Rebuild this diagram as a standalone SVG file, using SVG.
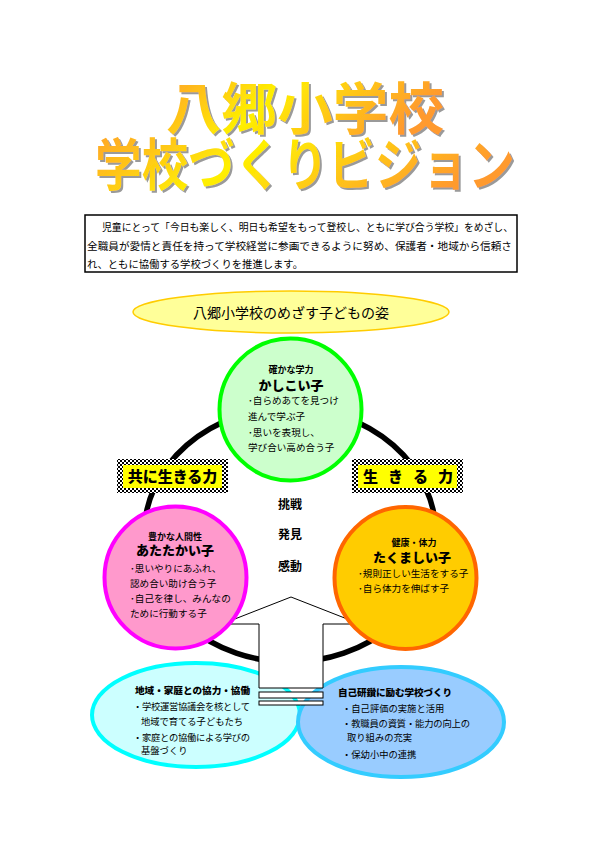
<svg xmlns="http://www.w3.org/2000/svg" width="595" height="842" viewBox="0 0 595 842">
<defs>
<linearGradient id="tg" x1="0" y1="0" x2="1" y2="0.3">
<stop offset="0" stop-color="#FF9A2E"/>
<stop offset="0.45" stop-color="#FFF000"/>
<stop offset="1" stop-color="#FF9A2E"/>
</linearGradient>
<filter id="sh" x="-5%" y="-10%" width="115%" height="130%">
<feOffset in="SourceAlpha" dx="2" dy="2" result="o"/>
<feFlood flood-color="#9a9a9a"/>
<feComposite in2="o" operator="in" result="s"/>
<feMerge><feMergeNode in="s"/><feMergeNode in="SourceGraphic"/></feMerge>
</filter>
<pattern id="chk" width="4" height="4" patternUnits="userSpaceOnUse">
<rect width="4" height="4" fill="#fff"/>
<rect width="2" height="2" fill="#000"/>
<rect x="2" y="2" width="2" height="2" fill="#000"/>
</pattern>
<style>
text{font-family:"Noto Sans CJK JP","Noto Sans CJK SC",sans-serif;fill:#000}
.title{font-size:56px;font-weight:bold;fill:url(#tg);filter:url(#sh)}
.body{font-size:10.3px}
.sm{font-size:9px;font-weight:bold}
.big{font-size:13px;font-weight:900}
.it{font-size:9.6px}
.lab{font-size:15px;font-weight:900}
.kw{font-size:12px;font-weight:bold}
.bt{font-size:9.3px}
.btb{font-size:9.6px;font-weight:900}
</style>
</defs>
<rect width="595" height="842" fill="#fff"/>

<g id="title">
<text class="title" x="305" y="129" text-anchor="middle" textLength="278" lengthAdjust="spacingAndGlyphs">八郷小学校</text>
<text class="title" x="305" y="185" text-anchor="middle" textLength="420" lengthAdjust="spacingAndGlyphs">学校づくりビジョン</text>
</g>

<g id="intro">
<rect x="85" y="215" width="432" height="57" fill="#fff" stroke="#000" stroke-width="1.5"/>
<text class="body" x="102" y="231" textLength="411" lengthAdjust="spacingAndGlyphs">児童にとって「今日も楽しく、明日も希望をもって登校し、ともに学び合う学校」をめざし、</text>
<text class="body" x="87" y="250" textLength="425" lengthAdjust="spacingAndGlyphs">全職員が愛情と責任を持って学校経営に参画できるように努め、保護者・地域から信頼さ</text>
<text class="body" x="87" y="268" textLength="216" lengthAdjust="spacingAndGlyphs">れ、ともに協働する学校づくりを推進します。</text>
</g>

<g id="goal">
<ellipse cx="291" cy="312" rx="158" ry="21" fill="#FFFF99" stroke="#FFCC00" stroke-width="1.5"/>
<text x="291" y="318" text-anchor="middle" style="font-size:14px">八郷小学校のめざす子どもの姿</text>
</g>

<g id="connectors">
<ellipse cx="290" cy="535" rx="146" ry="127" fill="none" stroke="#000" stroke-width="5.5"/>
</g>

<g id="community">
<ellipse cx="196" cy="715" rx="104" ry="52" fill="#CCFFFF" stroke="#00FFFF" stroke-width="4"/>
<text class="btb" x="135" y="694">地域・家庭との協力・協働</text>
<text class="bt" x="133" y="710" textLength="117" lengthAdjust="spacing">・学校運営協議会を核として</text>
<text class="bt" x="141" y="725" textLength="102" lengthAdjust="spacing">地域で育てる子どもたち</text>
<text class="bt" x="133" y="741" textLength="117" lengthAdjust="spacing">・家庭との協働による学びの</text>
<text class="bt" x="141" y="754">基盤づくり</text>
</g>

<g id="school">
<ellipse cx="401" cy="722" rx="103" ry="55" fill="#99CCFF" stroke="#33CCFF" stroke-width="4"/>
<text class="btb" x="338" y="696" textLength="114" lengthAdjust="spacing">自己研鑽に励む学校づくり</text>
<text class="bt" x="342" y="712">・自己評価の実施と活用</text>
<text class="bt" x="342" y="727" textLength="128" lengthAdjust="spacing">・教職員の資質・能力の向上の</text>
<text class="bt" x="347" y="741">取り組みの充実</text>
<text class="bt" x="342" y="758">・保幼小中の連携</text>
</g>

<g id="arrow">
<polygon points="291,597 360,624 323,624 323,688 259,688 259,624 222,624" fill="#fff" stroke="#000" stroke-width="1"/>
<rect x="259" y="692" width="64" height="6" fill="#fff" stroke="#000" stroke-width="1"/>
<rect x="259" y="701" width="64" height="4" fill="#fff" stroke="#000" stroke-width="1"/>
</g>

<g id="kw">
<text class="kw" x="290" y="509" text-anchor="middle">挑戦</text>
<text class="kw" x="290" y="539" text-anchor="middle">発見</text>
<text class="kw" x="290" y="571" text-anchor="middle">感動</text>
</g>

<g id="heart">
<circle cx="175.5" cy="577.5" r="71" fill="#FF99CC" stroke="#FF00FF" stroke-width="4"/>
<text class="sm" x="175" y="540" text-anchor="middle">豊かな人間性</text>
<text class="big" x="175" y="555" text-anchor="middle">あたたかい子</text>
<text class="it" x="130" y="572">･思いやりにあふれ、</text>
<text class="it" x="130" y="587">認め合い助け合う子</text>
<text class="it" x="130" y="602">･自己を律し、みんなの</text>
<text class="it" x="130" y="617">ために行動する子</text>
</g>

<g id="health">
<circle cx="405.5" cy="578" r="71" fill="#FFCC00" stroke="#FF6600" stroke-width="4"/>
<text class="sm" x="414" y="546" text-anchor="middle">健康・体力</text>
<text class="big" x="412" y="562" text-anchor="middle">たくましい子</text>
<text class="it" x="358" y="577">･規則正しい生活をする子</text>
<text class="it" x="358" y="592">･自ら体力を伸ばす子</text>
</g>

<g id="wisdom">
<circle cx="290.5" cy="409.5" r="71" fill="#CCFFCC" stroke="#00FF00" stroke-width="4"/>
<text class="sm" x="291" y="373" text-anchor="middle">確かな学力</text>
<text class="big" x="291" y="390" text-anchor="middle">かしこい子</text>
<text class="it" x="248" y="404">･自らめあてを見つけ</text>
<text class="it" x="248" y="420">進んで学ぶ子</text>
<text class="it" x="248" y="436">･思いを表現し、</text>
<text class="it" x="248" y="451">学び合い高め合う子</text>
</g>

<g id="label-left">
<rect x="117" y="459" width="111" height="34" fill="url(#chk)"/>
<rect x="123" y="465" width="99" height="23" fill="#FFFF00"/>
<text class="lab" x="172.5" y="482" text-anchor="middle">共に生きる力</text>
</g>

<g id="label-right">
<rect x="352" y="459" width="111" height="34" fill="url(#chk)"/>
<rect x="358" y="465" width="99" height="23" fill="#FFFF00"/>
<text class="lab" x="363" y="482" textLength="90" lengthAdjust="spacing">生きる力</text>
</g>
</svg>
